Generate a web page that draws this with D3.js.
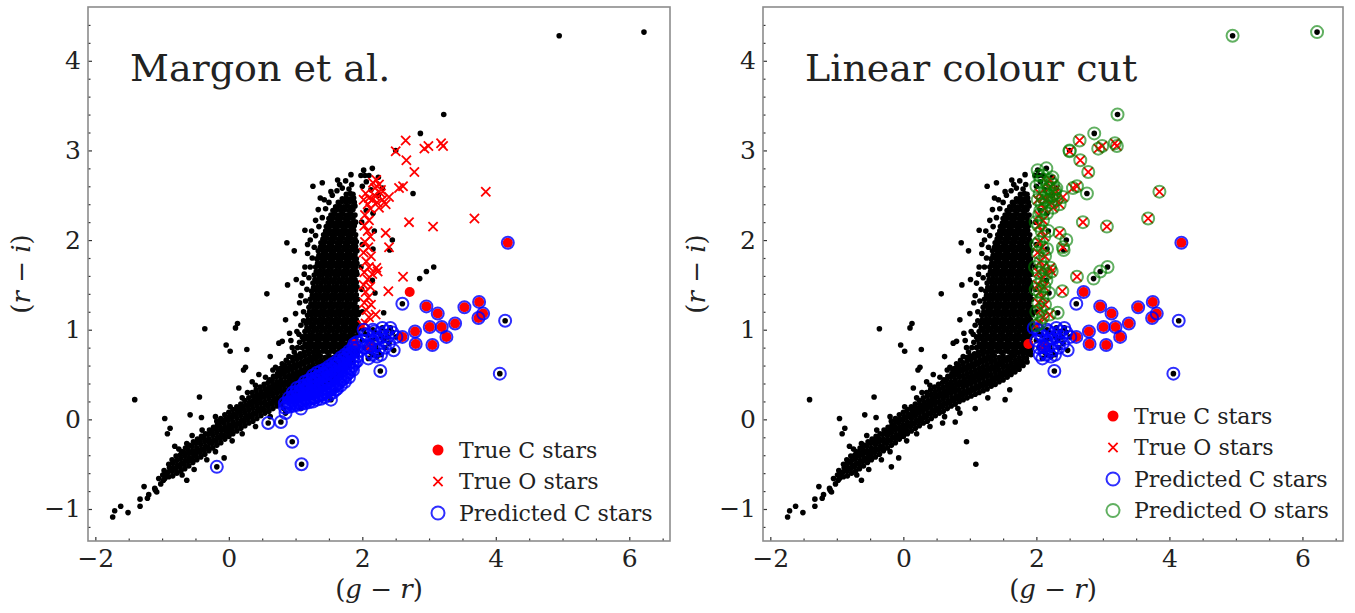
<!DOCTYPE html>
<html>
<head>
<meta charset="utf-8">
<script src="https://cdn.jsdelivr.net/npm/d3@7"></script>
<style>
  body { margin: 0; background: #fff; }
  svg { display: block; }
  text { font-family: "DejaVu Serif", serif; fill: #222; }
</style>
</head>
<body>
<svg id="chart" width="1355" height="613"></svg>
<script>
// Parse a whitespace separated list of "g-r,r-i" pairs.
const pairs = s => s.trim().split(/\s+/).map(p => p.split(",").map(Number));

// All catalogue sources, (g - r, r - i)
const fieldSources = pairs(`
-1.74,-1.09 -1.71,-1.02 -1.62,-0.97 -1.51,-1.04 -1.33,-0.97 -1.33,-0.89 -1.27,-0.75 -1.22,-0.88 -1.20,-0.84
-1.11,-0.77 -1.08,-0.81 -1.10,-0.79 -1.02,-0.72 -0.98,-0.68 -0.63,-0.68 -1.05,-0.66 -0.99,-0.62
-0.96,-0.66 -0.95,-0.61 -0.97,-0.57
-0.90,-0.64 -0.91,-0.59 -0.89,-0.54 -0.90,-0.50
-0.84,-0.63 -0.85,-0.58 -0.83,-0.54 -0.84,-0.49 -0.85,-0.45
-0.78,-0.60 -0.79,-0.55 -0.77,-0.51 -0.78,-0.46 -0.79,-0.41
-0.72,-0.58 -0.73,-0.53 -0.71,-0.49 -0.72,-0.44 -0.73,-0.40 -0.71,-0.36
-0.66,-0.55 -0.67,-0.50 -0.65,-0.46 -0.66,-0.41 -0.67,-0.37 -0.65,-0.32
-0.60,-0.52 -0.61,-0.47 -0.59,-0.43 -0.60,-0.38 -0.61,-0.34 -0.59,-0.29
-0.54,-0.48 -0.55,-0.44 -0.53,-0.39 -0.54,-0.35 -0.55,-0.30 -0.53,-0.25
-0.48,-0.45 -0.49,-0.41 -0.47,-0.36 -0.48,-0.32 -0.49,-0.27 -0.47,-0.22
-0.42,-0.42 -0.43,-0.37 -0.41,-0.33 -0.42,-0.28 -0.43,-0.24 -0.41,-0.19
-0.36,-0.39 -0.37,-0.34 -0.35,-0.30 -0.36,-0.25 -0.37,-0.21 -0.35,-0.16
-0.30,-0.35 -0.31,-0.31 -0.29,-0.26 -0.30,-0.22 -0.31,-0.17 -0.29,-0.12
-0.24,-0.32 -0.25,-0.27 -0.23,-0.23 -0.24,-0.18 -0.25,-0.14 -0.23,-0.09
-0.18,-0.29 -0.19,-0.24 -0.17,-0.20 -0.18,-0.15 -0.19,-0.11 -0.17,-0.06 -0.18,-0.02
-0.12,-0.26 -0.13,-0.21 -0.11,-0.17 -0.12,-0.12 -0.13,-0.08 -0.11,-0.03 -0.12,0.01
-0.06,-0.22 -0.07,-0.18 -0.05,-0.13 -0.06,-0.09 -0.07,-0.04 -0.05,0.00 -0.06,0.05
0.00,-0.19 -0.01,-0.15 0.01,-0.10 0.00,-0.06 -0.01,-0.01 0.01,0.03 0.00,0.08
0.06,-0.16 0.05,-0.12 0.07,-0.07 0.06,-0.03 0.05,0.02 0.07,0.06 0.06,0.11
0.12,-0.13 0.11,-0.08 0.13,-0.04 0.12,0.01 0.11,0.05 0.13,0.10 0.12,0.14
0.18,-0.10 0.17,-0.05 0.19,-0.01 0.18,0.04 0.17,0.08 0.19,0.13 0.18,0.17
0.24,-0.07 0.23,-0.02 0.25,0.02 0.24,0.07 0.23,0.11 0.25,0.16 0.24,0.21
0.30,-0.04 0.29,0.01 0.31,0.05 0.30,0.10 0.29,0.14 0.31,0.19 0.30,0.24
0.36,-0.02 0.35,0.03 0.37,0.07 0.36,0.12 0.35,0.16 0.37,0.21 0.36,0.26 0.35,0.30
0.42,0.01 0.41,0.06 0.43,0.10 0.42,0.15 0.41,0.19 0.43,0.24 0.42,0.28 0.41,0.33
0.48,0.04 0.47,0.09 0.49,0.13 0.48,0.18 0.47,0.22 0.49,0.27 0.48,0.31 0.47,0.36
0.54,0.07 0.53,0.11 0.55,0.16 0.54,0.20 0.53,0.25 0.55,0.29 0.54,0.34 0.53,0.39
0.60,0.09 0.59,0.14 0.61,0.18 0.60,0.23 0.59,0.27 0.61,0.32 0.60,0.36 0.59,0.41 0.61,0.44
0.66,0.12 0.65,0.17 0.67,0.21 0.66,0.26 0.65,0.30 0.67,0.35 0.66,0.39 0.65,0.44 0.67,0.48
0.72,0.15 0.71,0.20 0.73,0.24 0.72,0.29 0.71,0.33 0.73,0.38 0.72,0.42 0.71,0.47 0.73,0.51
0.78,0.17 0.77,0.22 0.79,0.26 0.78,0.31 0.77,0.35 0.79,0.40 0.78,0.44 0.77,0.49 0.79,0.53 0.78,0.57
0.84,0.20 0.83,0.24 0.85,0.29 0.84,0.33 0.83,0.38 0.85,0.42 0.84,0.47 0.83,0.51 0.85,0.56 0.84,0.60
0.90,0.22 0.89,0.27 0.91,0.31 0.90,0.36 0.89,0.40 0.91,0.45 0.90,0.49 0.89,0.54 0.91,0.58 0.90,0.63
0.96,0.24 0.95,0.29 0.97,0.33 0.96,0.38 0.95,0.42 0.97,0.47 0.96,0.51 0.95,0.56 0.97,0.60 0.96,0.65 0.95,0.69
1.02,0.26 1.01,0.31 1.03,0.35 1.02,0.40 1.01,0.44 1.03,0.49 1.02,0.53 1.01,0.58 1.03,0.62 1.02,0.67 1.01,0.71
1.08,0.28 1.07,0.33 1.09,0.37 1.08,0.42 1.07,0.46 1.09,0.51 1.08,0.55 1.07,0.60 1.09,0.64 1.08,0.69 1.07,0.73
1.14,0.30 1.13,0.35 1.15,0.39 1.14,0.44 1.13,0.48 1.15,0.53 1.14,0.57 1.13,0.62 1.15,0.66 1.14,0.71 1.13,0.75
1.20,0.32 1.19,0.37 1.21,0.41 1.20,0.46 1.19,0.50 1.21,0.55 1.20,0.59 1.19,0.64 1.21,0.68 1.20,0.73 1.19,0.77
1.26,0.34 1.25,0.39 1.27,0.43 1.26,0.48 1.25,0.52 1.27,0.57 1.26,0.61 1.25,0.66 1.27,0.70 1.26,0.75
1.32,0.37 1.31,0.41 1.33,0.46 1.32,0.50 1.31,0.55 1.33,0.59 1.32,0.64 1.31,0.68 1.33,0.72
1.38,0.39 1.37,0.44 1.39,0.48 1.38,0.53 1.37,0.57 1.39,0.62 1.38,0.66 1.37,0.71
1.44,0.42 1.43,0.46 1.45,0.51 1.44,0.55 1.43,0.60 1.45,0.64 1.44,0.69
1.50,0.44 1.49,0.49 1.51,0.53 1.50,0.58 1.49,0.62 1.51,0.67 1.50,0.71
1.56,0.47 1.55,0.51 1.57,0.56 1.56,0.60 1.55,0.65 1.57,0.69
1.62,0.50 1.61,0.54 1.63,0.59 1.62,0.63 1.61,0.68 1.63,0.72
1.68,0.53 1.67,0.57 1.69,0.62 1.68,0.66 1.67,0.71
1.74,0.56 1.73,0.60 1.75,0.65 1.74,0.69 1.73,0.74
1.80,0.60 1.79,0.64 1.81,0.69 1.80,0.73
1.86,0.64 1.85,0.68 1.87,0.73 1.86,0.77
1.92,0.72 1.91,0.76 1.93,0.80
1.29,0.76 1.35,0.75 1.41,0.76 1.47,0.75 1.53,0.76 1.59,0.75 1.65,0.76 1.71,0.75 1.77,0.76 1.83,0.75
-0.70,-0.62 -0.52,-0.56 -0.33,-0.45 -0.20,-0.36 0.05,-0.24 0.20,-0.16 0.40,-0.08 0.62,0.03 0.82,0.12
-0.55,-0.18 -0.40,-0.12 -0.20,0.03 0.02,0.14 0.20,0.24 0.40,0.38 0.55,0.47 0.70,0.58 0.28,0.30
-0.63,-0.27 -0.75,-0.33
0.98,0.75 1.03,0.80 1.06,0.86 0.90,0.70 0.86,0.66 1.10,0.92 1.02,0.98 0.93,0.88 0.80,0.62 0.74,0.56
1.12,1.10 1.08,1.38 1.14,1.70 1.18,1.95 1.24,2.10 1.30,2.22 1.34,2.34 1.43,2.45
1.10,0.80 1.16,0.81 1.22,0.80 1.28,0.81 1.34,0.80 1.40,0.81 1.46,0.80 1.52,0.81 1.58,0.80 1.64,0.81 1.70,0.80 1.76,0.81 1.82,0.80 1.88,0.81
1.14,0.84 1.20,0.85 1.26,0.84 1.32,0.85 1.38,0.84 1.44,0.85 1.50,0.84 1.56,0.85 1.62,0.84 1.68,0.85 1.74,0.84 1.80,0.85 1.86,0.84 1.91,0.85
1.12,0.89 1.18,0.90 1.24,0.89 1.30,0.90 1.36,0.89 1.42,0.90 1.48,0.89 1.54,0.90 1.60,0.89 1.66,0.90 1.72,0.89 1.78,0.90 1.84,0.89 1.90,0.90
1.15,0.93 1.21,0.94 1.27,0.93 1.33,0.94 1.39,0.93 1.45,0.94 1.51,0.93 1.57,0.94 1.63,0.93 1.69,0.94 1.75,0.93 1.81,0.94 1.87,0.93 1.93,0.94
1.14,0.98 1.20,0.99 1.26,0.98 1.32,0.99 1.38,0.98 1.44,0.99 1.50,0.98 1.56,0.99 1.62,0.98 1.68,0.99 1.74,0.98 1.80,0.99 1.86,0.98 1.92,0.99
1.17,1.02 1.23,1.03 1.29,1.02 1.35,1.03 1.41,1.02 1.47,1.03 1.53,1.02 1.59,1.03 1.65,1.02 1.71,1.03 1.77,1.02 1.83,1.03 1.89,1.02 1.94,1.03
1.16,1.07 1.22,1.08 1.28,1.07 1.34,1.08 1.40,1.07 1.46,1.08 1.52,1.07 1.58,1.08 1.64,1.07 1.70,1.08 1.76,1.07 1.82,1.08 1.88,1.07 1.93,1.08
1.19,1.11 1.25,1.12 1.31,1.11 1.37,1.12 1.43,1.11 1.49,1.12 1.55,1.11 1.61,1.12 1.67,1.11 1.73,1.12 1.79,1.11 1.85,1.12 1.91,1.11
1.18,1.16 1.24,1.17 1.30,1.16 1.36,1.17 1.42,1.16 1.48,1.17 1.54,1.16 1.60,1.17 1.66,1.16 1.72,1.17 1.78,1.16 1.84,1.17 1.90,1.16 1.94,1.17
1.21,1.20 1.27,1.21 1.33,1.20 1.39,1.21 1.45,1.20 1.51,1.21 1.57,1.20 1.63,1.21 1.69,1.20 1.75,1.21 1.81,1.20 1.87,1.21 1.93,1.20
1.20,1.25 1.26,1.26 1.32,1.25 1.38,1.26 1.44,1.25 1.50,1.26 1.56,1.25 1.62,1.26 1.68,1.25 1.74,1.26 1.80,1.25 1.86,1.26 1.92,1.25
1.23,1.29 1.29,1.30 1.35,1.29 1.41,1.30 1.47,1.29 1.53,1.30 1.59,1.29 1.65,1.30 1.71,1.29 1.77,1.30 1.83,1.29 1.89,1.30
1.22,1.34 1.28,1.35 1.34,1.34 1.40,1.35 1.46,1.34 1.52,1.35 1.58,1.34 1.64,1.35 1.70,1.34 1.76,1.35 1.82,1.34 1.88,1.35 1.93,1.34
1.25,1.38 1.31,1.39 1.37,1.38 1.43,1.39 1.49,1.38 1.55,1.39 1.61,1.38 1.67,1.39 1.73,1.38 1.79,1.39 1.85,1.38 1.91,1.39
1.24,1.43 1.30,1.44 1.36,1.43 1.42,1.44 1.48,1.43 1.54,1.44 1.60,1.43 1.66,1.44 1.72,1.43 1.78,1.44 1.84,1.43 1.90,1.44
1.27,1.47 1.33,1.48 1.39,1.47 1.45,1.48 1.51,1.47 1.57,1.48 1.63,1.47 1.69,1.48 1.75,1.47 1.81,1.48 1.87,1.47 1.92,1.48
1.26,1.52 1.32,1.53 1.38,1.52 1.44,1.53 1.50,1.52 1.56,1.53 1.62,1.52 1.68,1.53 1.74,1.52 1.80,1.53 1.86,1.52 1.91,1.53
1.29,1.56 1.35,1.57 1.41,1.56 1.47,1.57 1.53,1.56 1.59,1.57 1.65,1.56 1.71,1.57 1.77,1.56 1.83,1.57 1.89,1.56
1.28,1.61 1.34,1.62 1.40,1.61 1.46,1.62 1.52,1.61 1.58,1.62 1.64,1.61 1.70,1.62 1.76,1.61 1.82,1.62 1.88,1.61 1.92,1.62
1.31,1.65 1.37,1.66 1.43,1.65 1.49,1.66 1.55,1.65 1.61,1.66 1.67,1.65 1.73,1.66 1.79,1.65 1.85,1.66 1.91,1.65
1.30,1.70 1.36,1.71 1.42,1.70 1.48,1.71 1.54,1.70 1.60,1.71 1.66,1.70 1.72,1.71 1.78,1.70 1.84,1.71 1.90,1.70
1.33,1.74 1.39,1.75 1.45,1.74 1.51,1.75 1.57,1.74 1.63,1.75 1.69,1.74 1.75,1.75 1.81,1.74 1.87,1.75 1.92,1.74
1.32,1.79 1.38,1.80 1.44,1.79 1.50,1.80 1.56,1.79 1.62,1.80 1.68,1.79 1.74,1.80 1.80,1.79 1.86,1.80 1.91,1.79
1.35,1.83 1.41,1.84 1.47,1.83 1.53,1.84 1.59,1.83 1.65,1.84 1.71,1.83 1.77,1.84 1.83,1.83 1.89,1.84
1.34,1.88 1.40,1.89 1.46,1.88 1.52,1.89 1.58,1.88 1.64,1.89 1.70,1.88 1.76,1.89 1.82,1.88 1.88,1.89 1.92,1.88
1.37,1.92 1.43,1.93 1.49,1.92 1.55,1.93 1.61,1.92 1.67,1.93 1.73,1.92 1.79,1.93 1.85,1.92 1.90,1.93
1.38,1.97 1.44,1.98 1.50,1.97 1.56,1.98 1.62,1.97 1.68,1.98 1.74,1.97 1.80,1.98 1.86,1.97 1.91,1.98
1.41,2.01 1.47,2.02 1.53,2.01 1.59,2.02 1.65,2.01 1.71,2.02 1.77,2.01 1.83,2.02 1.89,2.01
1.42,2.06 1.48,2.07 1.54,2.06 1.60,2.07 1.66,2.06 1.72,2.07 1.78,2.06 1.84,2.07 1.90,2.06
1.45,2.10 1.51,2.11 1.57,2.10 1.63,2.11 1.69,2.10 1.75,2.11 1.81,2.10 1.87,2.11
1.46,2.15 1.52,2.16 1.58,2.15 1.64,2.16 1.70,2.15 1.76,2.16 1.82,2.15 1.88,2.16
1.49,2.19 1.55,2.20 1.61,2.19 1.67,2.20 1.73,2.19 1.79,2.20 1.85,2.19 1.90,2.20
1.50,2.24 1.56,2.25 1.62,2.24 1.68,2.25 1.74,2.24 1.80,2.25 1.86,2.24
1.53,2.28 1.59,2.29 1.65,2.28 1.71,2.29 1.77,2.28 1.83,2.29 1.89,2.28
1.56,2.33 1.62,2.34 1.68,2.33 1.74,2.34 1.80,2.33 1.86,2.34
1.60,2.37 1.66,2.38 1.72,2.37 1.78,2.38 1.84,2.37 1.89,2.38
1.64,2.42 1.70,2.43 1.76,2.42 1.82,2.43 1.88,2.42
1.70,2.46 1.76,2.47 1.82,2.46 1.87,2.47
1.76,2.51 1.82,2.52 1.86,2.51
1.05,0.95 1.08,1.05 1.12,1.20 1.15,1.32 1.17,1.45 1.20,1.58 1.22,1.70 1.25,1.80 1.28,1.92 1.30,2.05
1.35,2.15 1.40,2.25 1.45,2.35 1.50,2.42 1.55,2.50 1.62,2.55 1.70,2.58 1.80,2.57 1.84,2.62 1.75,2.66
1.66,2.62 1.06,1.30 1.00,1.18 1.10,1.52 1.13,1.62 1.18,1.85 1.22,2.00
1.26,2.60 1.40,2.64 1.53,2.54 1.37,2.47 1.63,2.67 1.83,2.73 1.98,2.72 0.87,1.97 0.98,1.88 1.14,2.11
1.01,1.56 0.88,1.50 0.57,1.40
-1.41,0.22 -0.36,1.01 0.10,1.02 0.13,1.07 -0.04,0.83 0.02,0.76 0.27,0.78 0.22,0.55 0.25,0.58 -0.44,0.25
-0.96,0.01 -0.88,-0.10 -0.92,-0.16 -0.58,0.05 -0.41,0.02 -0.81,-0.30 -0.07,-0.43 0.75,0.85 0.80,0.87
0.85,1.11 0.66,0.55 0.91,0.96 0.95,0.80 0.62,0.70 0.45,0.50 0.35,0.42 0.15,0.35
2.76,2.52 2.87,3.19 3.22,3.40 2.50,3.00 2.15,2.80 3.07,1.70 2.96,1.65 2.86,1.57 2.45,2.00 2.41,1.89
2.19,1.41 2.32,1.19 4.95,4.28 6.22,4.32
2.60,1.29 4.14,1.10 4.06,0.51 2.27,0.54 2.47,0.77 -0.18,-0.53 0.59,-0.04 0.78,-0.03 0.95,-0.25 1.09,-0.50
0.85,0.07 1.08,0.12 1.27,0.24 1.53,0.22 1.60,0.33
2.16,1.00 2.36,0.98 2.51,0.92 2.11,0.81 2.24,0.77 2.09,0.68 2.29,0.92 2.40,0.85 2.20,0.90 2.05,0.95
2.30,1.02 2.45,0.97 2.15,0.72 2.00,0.88 1.96,1.02
2.02,1.00 2.08,0.94 2.14,0.88 2.20,0.82 2.26,0.96 2.32,0.88 2.18,0.98 2.38,0.92 2.42,1.02 2.12,0.75
2.22,0.70 2.04,0.80 2.34,0.80 2.28,0.72
2.02,2.78 2.10,2.72 2.06,2.65 2.00,2.60 2.13,2.56 2.24,2.50 2.06,2.33 2.16,2.30 1.99,2.20 2.00,1.95
1.98,1.70 1.99,1.45 2.00,1.20 2.16,1.90 2.15,1.55 2.18,2.10 2.24,2.70 2.04,2.72 2.30,2.58
`);

// Spectroscopically confirmed carbon stars
const trueC = pairs(`
4.18,1.97 2.71,1.42 1.88,0.84 2.96,1.26 3.13,1.18 3.53,1.25 3.75,1.31 3.74,1.13 3.81,1.18
3.01,1.03 3.19,1.03 3.39,1.07 2.79,0.98 2.60,0.92 2.80,0.84 3.05,0.83 3.26,0.92 2.12,0.81
`);

// Spectroscopically confirmed oxygen-rich stars
const trueO = pairs(`
2.65,3.11 2.50,2.99 2.93,3.02 3.18,3.08 3.21,3.05 2.66,2.89 2.78,2.76 2.99,3.05
3.85,2.54 3.68,2.24 2.70,2.20 3.06,2.15 2.55,2.58 2.61,2.60 2.40,2.48 2.28,2.56
2.35,2.08 2.39,1.43 2.20,1.17 2.40,1.92 2.21,1.69 2.23,1.65 2.61,1.59 2.05,1.07
2.21,2.67 2.16,2.64 2.25,2.62 2.19,2.58 2.05,2.52 2.10,2.47 2.15,2.45 2.22,2.42
2.30,2.45 2.08,2.40 2.12,2.35 2.25,2.36 2.18,2.50 2.02,2.45 2.28,2.52 2.35,2.40
2.04,2.28 2.10,2.22 2.03,2.16 2.08,2.10 2.12,2.04 2.04,1.98 2.09,1.92 2.02,1.86
2.13,1.82 2.06,1.76 2.10,1.70 2.03,1.64 2.15,1.62 2.08,1.56 2.02,1.50 2.12,1.48
2.05,1.42 2.09,1.36 2.03,1.30 2.13,1.28 2.06,1.22 2.10,1.14 2.00,1.05
`);

// Carbon-star candidates selected with the Margon et al. criteria
const margonC = pairs(`
4.18,1.97 1.88,0.84 2.96,1.26 3.13,1.18 3.53,1.25 3.75,1.31 3.74,1.13 3.81,1.18
3.01,1.03 3.19,1.03 3.39,1.07 2.79,0.98 2.60,0.92 2.80,0.84 3.05,0.83 3.26,0.92 2.12,0.81
2.60,1.29 4.14,1.10 4.06,0.51 2.27,0.54 2.47,0.77
2.16,1.00 2.36,0.98 2.51,0.92 2.11,0.81 2.24,0.77 2.09,0.68 2.29,0.92 2.40,0.85 2.20,0.90 2.05,0.95
2.30,1.02 2.45,0.97 2.15,0.72 2.00,0.88
2.02,1.00 2.08,0.94 2.14,0.88 2.20,0.82 2.26,0.96 2.32,0.88 2.18,0.98 2.38,0.92 2.42,1.02 2.12,0.75
2.22,0.70 2.04,0.80 2.34,0.80 2.28,0.72
-0.18,-0.53 0.59,-0.04 0.78,-0.03 0.95,-0.25 1.09,-0.50 0.85,0.07 1.08,0.12 1.27,0.24 1.53,0.22 1.60,0.33
0.84,0.13 0.84,0.18
0.90,0.14 0.90,0.19 0.90,0.24
0.96,0.15 0.96,0.20 0.96,0.25 0.96,0.30
1.02,0.16 1.02,0.21 1.02,0.26 1.02,0.31 1.02,0.35
1.08,0.17 1.08,0.22 1.08,0.27 1.08,0.32 1.08,0.37
1.14,0.18 1.14,0.23 1.14,0.28 1.14,0.33 1.14,0.38 1.14,0.42
1.20,0.19 1.20,0.24 1.20,0.29 1.20,0.34 1.20,0.39 1.20,0.44
1.26,0.20 1.26,0.25 1.26,0.30 1.26,0.35 1.26,0.40 1.26,0.45 1.26,0.49
1.32,0.22 1.32,0.27 1.32,0.32 1.32,0.37 1.32,0.42 1.32,0.47 1.32,0.52
1.38,0.23 1.38,0.28 1.38,0.33 1.38,0.38 1.38,0.43 1.38,0.48 1.38,0.54
1.44,0.25 1.44,0.30 1.44,0.35 1.44,0.40 1.44,0.45 1.44,0.50 1.44,0.56
1.50,0.27 1.50,0.32 1.50,0.37 1.50,0.42 1.50,0.47 1.50,0.53 1.50,0.59
1.56,0.30 1.56,0.35 1.56,0.40 1.56,0.45 1.56,0.50 1.56,0.56 1.56,0.62
1.62,0.34 1.62,0.39 1.62,0.44 1.62,0.49 1.62,0.54 1.62,0.60 1.62,0.65
1.68,0.38 1.68,0.43 1.68,0.48 1.68,0.53 1.68,0.58 1.68,0.63 1.68,0.69
1.74,0.42 1.74,0.47 1.74,0.52 1.74,0.57 1.74,0.62 1.74,0.67 1.74,0.72
1.80,0.47 1.80,0.52 1.80,0.57 1.80,0.62 1.80,0.67 1.80,0.72 1.80,0.76
1.86,0.55 1.86,0.60 1.86,0.65 1.86,0.70 1.86,0.75 1.86,0.80
1.92,0.65 1.92,0.70 1.92,0.75 1.92,0.80 1.92,0.86
0.87,0.16 0.93,0.17 0.99,0.18 1.05,0.19 1.11,0.20 1.17,0.21 1.23,0.23 1.29,0.24 1.35,0.26 1.41,0.28
1.47,0.30 1.53,0.33 1.59,0.37 1.65,0.41 1.71,0.45 1.77,0.50 1.83,0.56 1.89,0.63
0.93,0.22 0.99,0.28 1.05,0.29 1.11,0.35 1.17,0.36 1.23,0.42 1.29,0.43 1.35,0.49 1.41,0.51
1.47,0.55 1.53,0.57 1.59,0.60 1.65,0.63 1.71,0.67 1.77,0.70 1.83,0.74 1.89,0.78
`);

// Carbon-star candidates from the linear colour cut
const cutC = pairs(`
4.18,1.97 2.71,1.42 2.96,1.26 3.13,1.18 3.53,1.25 3.75,1.31 3.74,1.13 3.81,1.18
3.01,1.03 3.19,1.03 3.39,1.07 2.79,0.98 2.60,0.92 2.80,0.84 3.05,0.83 3.26,0.92 2.12,0.81
2.60,1.29 4.14,1.10 4.06,0.51 2.27,0.54 2.47,0.77
2.16,1.00 2.36,0.98 2.51,0.92 2.11,0.81 2.24,0.77 2.09,0.68 2.29,0.92 2.40,0.85 2.20,0.90 2.05,0.95
2.30,1.02 2.45,0.97 2.15,0.72 2.00,0.88 1.96,1.02 2.05,0.72
2.02,1.00 2.08,0.94 2.14,0.88 2.20,0.82 2.26,0.96 2.32,0.88 2.18,0.98 2.38,0.92 2.42,1.02 2.12,0.75
2.22,0.70 2.04,0.80 2.34,0.80 2.28,0.72
`);

// Oxygen-rich candidates from the linear colour cut
const cutO = pairs(`
2.65,3.11 2.50,2.99 2.93,3.02 3.18,3.08 3.21,3.05 2.66,2.89 2.78,2.76 2.99,3.05
3.85,2.54 3.68,2.24 2.70,2.20 3.06,2.15 2.55,2.58 2.61,2.60 2.40,2.48 2.28,2.56
2.35,2.08 2.39,1.43 2.20,1.17 2.40,1.92 2.21,1.69 2.23,1.65 2.61,1.59 2.05,1.07
2.21,2.67 2.16,2.64 2.25,2.62 2.19,2.58 2.05,2.52 2.10,2.47 2.15,2.45 2.22,2.42
2.30,2.45 2.08,2.40 2.12,2.35 2.25,2.36 2.18,2.50 2.02,2.45 2.28,2.52 2.35,2.40
2.04,2.28 2.10,2.22 2.03,2.16 2.08,2.10 2.12,2.04 2.04,1.98 2.09,1.92 2.02,1.86
2.13,1.82 2.06,1.76 2.10,1.70 2.03,1.64 2.15,1.62 2.08,1.56 2.02,1.50 2.12,1.48
2.05,1.42 2.09,1.36 2.03,1.30 2.13,1.28 2.06,1.22 2.10,1.14 2.00,1.05
2.76,2.52 2.87,3.19 3.22,3.40 2.50,3.00 2.15,2.80 3.07,1.70 2.96,1.65 2.86,1.57 2.45,2.00 2.41,1.89
2.19,1.41 2.32,1.19 4.95,4.28 6.22,4.32
2.02,2.78 2.10,2.72 2.06,2.65 2.00,2.60 2.13,2.56 2.24,2.50 2.06,2.33 2.16,2.30 1.99,2.20 2.00,1.95
1.98,1.70 1.99,1.45 2.00,1.20 2.16,1.90 2.15,1.55 2.18,2.10 2.24,2.70 2.04,2.72 2.30,2.58
`);

const xMajorTicks = [-2, 0, 2, 4, 6];
const yMajorTicks = [-1, 0, 1, 2, 3, 4];
const xMinorTicks = [-1.5, -1, -0.5, 0.5, 1, 1.5, 2.5, 3, 3.5, 4.5, 5, 5.5, 6.5];
const yMinorTicks = [-1.2, -0.8, -0.6, -0.4, -0.2, 0.2, 0.4, 0.6, 0.8, 1.2, 1.4, 1.6, 1.8,
                     2.2, 2.4, 2.6, 2.8, 3.2, 3.4, 3.6, 3.8, 4.2, 4.4];
const xDomain = [-2.11, 6.61];
const yDomain = [-1.357, 4.60];

const panels = [
  { left: 88, width: 582, title: "Margon et al.", predC: margonC, predO: null,
    legend: ["True C stars", "True O stars", "Predicted C stars"], legendTop: 443 },
  { left: 763, width: 580, title: "Linear colour cut", predC: cutC, predO: cutO,
    legend: ["True C stars", "True O stars", "Predicted C stars", "Predicted O stars"], legendTop: 409 }
];

const svg = d3.select("#chart");
const frameTop = 7, frameHeight = 534;
const fmt = d3.format("d");
const dotR = 2.8, cR = 5, xHalf = 4.6, ringR = 6;
const blueRing = { stroke: "#0000ff", opacity: 0.82 };
const greenRing = { stroke: "#008000", opacity: 0.62 };

const crossPath = (cx, cy, s) =>
  `M${cx - s},${cy - s}L${cx + s},${cy + s}M${cx - s},${cy + s}L${cx + s},${cy - s}`;

function drawMarker(g, kind, cx, cy) {
  if (kind === "C") {
    g.append("circle").attr("cx", cx).attr("cy", cy).attr("r", 5.5).attr("fill", "#ff0000");
  } else if (kind === "O") {
    g.append("path").attr("d", crossPath(cx, cy, 4.6))
      .attr("stroke", "#ff0000").attr("stroke-width", 1.8).attr("fill", "none");
  } else {
    const st = kind === "PC" ? blueRing : greenRing;
    g.append("circle").attr("cx", cx).attr("cy", cy).attr("r", 6.5)
      .attr("fill", "none").attr("stroke", st.stroke).attr("stroke-opacity", st.opacity)
      .attr("stroke-width", 2);
  }
}

panels.forEach(p => {
  const g = svg.append("g").attr("transform", `translate(${p.left},${frameTop})`);
  const x = d3.scaleLinear().domain(xDomain).range([0, p.width]);
  const y = d3.scaleLinear().domain(yDomain).range([frameHeight, 0]);

  const plot = g.append("g");

  // background sources
  plot.append("g").selectAll("circle").data(fieldSources).join("circle")
    .attr("cx", d => x(d[0])).attr("cy", d => y(d[1])).attr("r", dotR).attr("fill", "#000");

  // confirmed C stars
  plot.append("g").selectAll("circle").data(trueC).join("circle")
    .attr("cx", d => x(d[0])).attr("cy", d => y(d[1])).attr("r", cR).attr("fill", "#ff0000");

  // confirmed O stars
  plot.append("g").selectAll("path").data(trueO).join("path")
    .attr("d", d => crossPath(x(d[0]), y(d[1]), xHalf))
    .attr("stroke", "#ff0000").attr("stroke-width", 1.8).attr("fill", "none");

  // predicted C stars
  plot.append("g").selectAll("circle").data(p.predC).join("circle")
    .attr("cx", d => x(d[0])).attr("cy", d => y(d[1])).attr("r", ringR)
    .attr("fill", "none").attr("stroke", blueRing.stroke)
    .attr("stroke-opacity", blueRing.opacity).attr("stroke-width", 2);

  // predicted O stars
  if (p.predO) {
    plot.append("g").selectAll("circle").data(p.predO).join("circle")
      .attr("cx", d => x(d[0])).attr("cy", d => y(d[1])).attr("r", ringR)
      .attr("fill", "none").attr("stroke", greenRing.stroke)
      .attr("stroke-opacity", greenRing.opacity).attr("stroke-width", 2);
  }

  // axes: major and minor ticks pointing inwards
  const xAxis = g.append("g").attr("transform", `translate(0,${frameHeight})`)
    .call(d3.axisBottom(x).tickValues(xMajorTicks).tickSize(-4).tickPadding(8).tickFormat(fmt));
  const xMinor = g.append("g").attr("transform", `translate(0,${frameHeight})`)
    .call(d3.axisBottom(x).tickValues(xMinorTicks).tickSize(-2.5).tickFormat(""));
  const yAxis = g.append("g")
    .call(d3.axisLeft(y).tickValues(yMajorTicks).tickSize(-4).tickPadding(7).tickFormat(fmt));
  const yMinor = g.append("g")
    .call(d3.axisLeft(y).tickValues(yMinorTicks).tickSize(-2.5).tickFormat(""));

  [xAxis, xMinor, yAxis, yMinor].forEach(a => {
    a.select(".domain").remove();
    a.selectAll(".tick line").attr("stroke", "#333").attr("stroke-width", 1.2);
  });
  [xAxis, yAxis].forEach(a => a.selectAll(".tick text")
    .attr("font-family", "DejaVu Serif").attr("font-size", 25).attr("fill", "#222"));

  // frame
  g.append("rect").attr("x", 0).attr("y", 0).attr("width", p.width).attr("height", frameHeight)
    .attr("fill", "none").attr("stroke", "#8c8c8c").attr("stroke-width", 1.6);

  // title
  g.append("text").attr("x", 42).attr("y", 74).attr("font-size", 38).text(p.title);

  // axis labels
  const xl = g.append("text").attr("x", p.width / 2).attr("y", 591)
    .attr("text-anchor", "middle").attr("font-size", 26);
  xl.append("tspan").text("(");
  xl.append("tspan").attr("font-style", "italic").text("g");
  xl.append("tspan").text(" \u2212 ");
  xl.append("tspan").attr("font-style", "italic").text("r");
  xl.append("tspan").text(")");

  const yl = g.append("text").attr("transform", `translate(${-58},${frameHeight / 2}) rotate(-90)`)
    .attr("text-anchor", "middle").attr("font-size", 26);
  yl.append("tspan").text("(");
  yl.append("tspan").attr("font-style", "italic").text("r");
  yl.append("tspan").text(" \u2212 ");
  yl.append("tspan").attr("font-style", "italic").text("i");
  yl.append("tspan").text(")");

  // legend
  const kinds = ["C", "O", "PC", "PO"];
  const lg = g.append("g");
  p.legend.forEach((label, i) => {
    const cy = p.legendTop + i * 31.5;
    drawMarker(lg, kinds[i], 350, cy);
    lg.append("text").attr("x", 371).attr("y", cy + 7.5).attr("font-size", 22).text(label);
  });
});
</script>
</body>
</html>
